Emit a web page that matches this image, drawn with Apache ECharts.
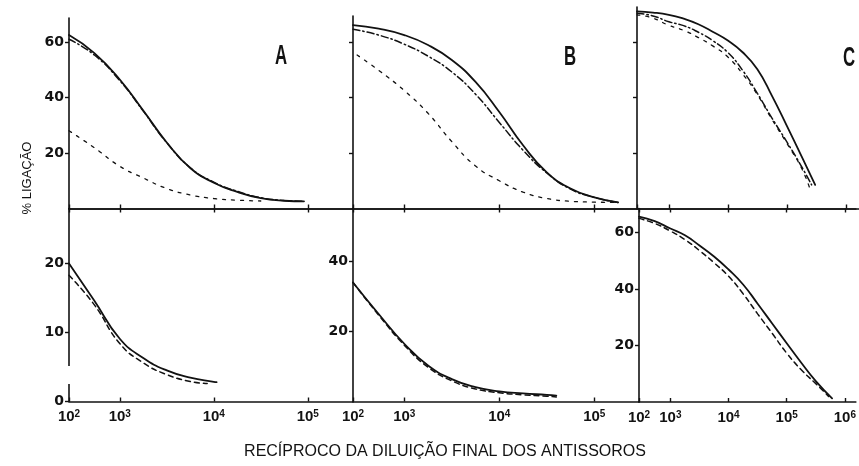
<!DOCTYPE html>
<html><head><meta charset="utf-8">
<script src="https://cdn.jsdelivr.net/npm/echarts@6/dist/echarts.min.js"></script>
<style>html,body{margin:0;padding:0;background:#fff}#c{width:859px;height:466px}</style>
</head><body><div id="c"></div>
<script>
// ---------------- DATA (x = log10 of reciprocal dilution, y = % ligação) ----------------
const xTickExps = [2, 3, 4, 5, 6];

// Panel A (top)
const topA_x       = [2, 2.5, 3, 3.25, 3.5, 3.75, 4, 4.25, 4.5, 4.75, 4.96];
const topA_solid   = [62.5, 56.0, 46.5, 35.3, 23.8, 14.6, 9.3, 6.0, 3.7, 2.8, 2.6];
const topA_dashdot = [61.0, 55.3, 46.1, 35.1, 23.7, 14.7, 9.5, 6.2, 3.9, 2.9, 2.6];
const topA_dash_x  = [2, 2.5, 3, 3.25, 3.5, 3.75, 4, 4.25, 4.5];
const topA_dash    = [28.0, 21.9, 15.2, 11.0, 7.2, 4.9, 3.6, 3.0, 2.7];

// Panel B (top)
const topB_x       = [2, 2.5, 3, 3.25, 3.5, 3.75, 4, 4.25, 4.5, 4.75, 5, 5.25];
const topB_solid   = [66.1, 64.8, 62.5, 58.9, 53.5, 45.6, 34.8, 22.8, 13.0, 7.2, 4.0, 2.2];
const topB_dashdot = [64.6, 62.5, 59.2, 54.9, 49.2, 41.2, 31.0, 21.0, 12.8, 7.0, 4.0, 2.2];
const topB_dash_x  = [2.08, 2.5, 3, 3.25, 3.5, 3.75, 4, 4.25, 4.5, 4.75, 5, 5.25];
const topB_dash    = [55.3, 49.8, 42.5, 34.3, 24.1, 15.3, 10.0, 5.9, 3.6, 2.6, 2.3, 2.2];

// Panel C (top)
const topC_x       = [2, 2.5, 3, 3.25, 3.5, 3.75, 4, 4.25, 4.5, 4.75, 5, 5.25, 5.48];
const topC_solid   = [71.0, 70.6, 69.8, 68.4, 66.4, 63.6, 60.5, 56.3, 50.2, 40.5, 29.8, 18.8, 8.5];
const topC_dd_x    = [2, 2.5, 3, 3.25, 3.5, 3.75, 4, 4.25, 4.5, 4.75, 5, 5.25, 5.42];
const topC_dashdot = [70.4, 69.4, 67.3, 65.9, 63.5, 60.4, 56.2, 49.8, 41.5, 32.5, 24.0, 15.1, 8.5];
const topC_dash_x  = [2, 2.5, 3, 3.25, 3.5, 3.75, 4, 4.25, 4.5, 4.75, 5, 5.25, 5.4];
const topC_dash    = [69.8, 68.6, 66.0, 64.2, 61.6, 58.5, 54.6, 48.5, 41.0, 32.0, 23.5, 14.5, 6.5];

// Panel A (bottom)
const botA_x       = [2, 2.5, 3, 3.25, 3.5, 3.75, 4, 4.03];
const botA_solid   = [20.0, 14.6, 9.1, 6.3, 4.5, 3.45, 2.85, 2.8];
const botA_dash_x  = [2, 2.5, 3, 3.25, 3.5, 3.75, 3.93];
const botA_dash    = [18.3, 14.0, 8.4, 5.6, 3.9, 2.9, 2.6];

// Panel B (bottom)
const botB_x       = [2, 2.5, 3, 3.25, 3.5, 3.75, 4, 4.25, 4.5, 4.6];
const botB_solid   = [34.0, 25.0, 16.5, 10.3, 6.4, 4.1, 2.9, 2.3, 1.9, 1.7];
const botB_dash    = [34.0, 24.7, 16.1, 9.8, 5.9, 3.6, 2.5, 1.9, 1.5, 1.3];

// Panel C (bottom)
const botC_x       = [2, 2.5, 3, 3.25, 3.5, 3.75, 4, 4.25, 4.5, 4.75, 5, 5.25, 5.5, 5.78];
const botC_solid   = [65.6, 64.0, 61.4, 59.0, 55.4, 51.5, 46.9, 41.6, 34.8, 27.8, 20.8, 13.9, 7.4, 1.3];
const botC_dash_x  = [2, 2.5, 3, 3.25, 3.5, 3.75, 4, 4.25, 4.5, 4.75, 5, 5.25, 5.5, 5.72];
const botC_dash    = [65.0, 63.2, 60.5, 57.5, 53.6, 49.3, 44.5, 38.3, 31.2, 24.3, 17.3, 11.4, 6.5, 2.0];

const panelLetters = ['A', 'B', 'C'];
const xTitle = 'RECÍPROCO DA DILUIÇÃO FINAL DOS ANTISSOROS';
const yTitle = '% LIGAÇÃO';

// ---------------- SCALE (original figure: first decade drawn ~0.54 of the others) ----------------
const K = 0.54;
function toAxis(e) { return e <= 3 ? (e - 2) * K : K + (e - 3); }
function fromAxis(v) { return v <= K + 1e-9 ? 2 + v / K : 3 + (v - K); }

const INK = '#121212';
const FONT = '"Liberation Sans", Arial, sans-serif';
const SOLID = { type: 'solid', width: 1.8 };
const DASHDOT = { type: [7, 3, 1.5, 3], width: 1.5 };
const DASHFINE = { type: [3, 6], width: 1.3 };
const DASH = { type: [5, 4], width: 1.5 };

const panels = [
  { grid: { left: 69, top: 18, width: 284, height: 190.5 }, ppu: 94, ppv: 2.775,
    yTicks: [20, 40, 60], yLabels: [20, 40, 60], xLabels: false, topAxis: false,
    lines: [[topA_x, topA_solid, SOLID], [topA_x, topA_dashdot, DASHDOT], [topA_dash_x, topA_dash, DASHFINE]] },
  { grid: { left: 353, top: 16, width: 284, height: 192.5 }, ppu: 95, ppv: 2.775,
    yTicks: [20, 40, 60], yLabels: [], xLabels: false, topAxis: false,
    lines: [[topB_x, topB_solid, SOLID], [topB_x, topB_dashdot, DASHDOT], [topB_dash_x, topB_dash, DASHFINE]] },
  { grid: { left: 637, top: 7, width: 222, height: 201.5 }, ppu: 59, ppv: 2.775,
    yTicks: [20, 40, 60], yLabels: [], xLabels: false, topAxis: false,
    lines: [[topC_x, topC_solid, SOLID], [topC_dd_x, topC_dashdot, DASHDOT], [topC_dash_x, topC_dash, DASHFINE]] },
  { grid: { left: 69, top: 208.5, width: 284, height: 193 }, ppu: 94, ppv: 6.9,
    yTicks: [0, 10, 20], yLabels: [0, 10, 20], xLabels: true, topAxis: true,
    lines: [[botA_x, botA_solid, SOLID], [botA_dash_x, botA_dash, DASH]] },
  { grid: { left: 353, top: 208.5, width: 286, height: 193 }, ppu: 95, ppv: 3.5,
    yTicks: [20, 40], yLabels: [20, 40], xLabels: true, topAxis: true,
    lines: [[botB_x, botB_solid, SOLID], [botB_x, botB_dash, DASH]] },
  { grid: { left: 639, top: 208.5, width: 220, height: 193.5 }, ppu: 59, ppv: 2.825,
    yTicks: [20, 40, 60], yLabels: [20, 40, 60], xLabels: true, topAxis: true,
    lines: [[botC_x, botC_solid, SOLID], [botC_dash_x, botC_dash, DASH]] }
];

const grids = [], xAxes = [], yAxes = [], series = [];
panels.forEach((p, i) => {
  grids.push(Object.assign({ containLabel: false }, p.grid));
  const xMax = p.grid.width / p.ppu;
  const yMax = p.grid.height / p.ppv;
  const xt = xTickExps.map(toAxis).filter(v => v <= xMax + 1e-6);
  const xi = xAxes.length;
  xAxes.push({
    type: 'value', gridIndex: i, min: 0, max: xMax, position: 'bottom',
    axisLine: { onZero: false, lineStyle: { color: INK, width: 1.6 } },
    axisTick: { inside: true, length: 4, customValues: xt, lineStyle: { color: INK, width: 1.4 } },
    axisLabel: {
      show: p.xLabels, customValues: xt, margin: 8, color: INK,
      formatter: v => '{b|10}{s|' + Math.round(fromAxis(v)) + '}',
      rich: {
        b: { fontFamily: FONT, fontSize: 15, fontWeight: 'bold', color: INK, lineHeight: 15, verticalAlign: 'bottom' },
        s: { fontFamily: FONT, fontSize: 10, fontWeight: 'bold', color: INK, lineHeight: 10, verticalAlign: 'top', padding: [0, 0, 9, 0] }
      }
    },
    splitLine: { show: false }
  });
  if (p.topAxis) {
    xAxes.push({
      type: 'value', gridIndex: i, min: 0, max: xMax, position: 'top',
      axisLine: { onZero: false, lineStyle: { color: INK, width: 1.6 } },
      axisTick: { inside: true, length: 4, customValues: xt, lineStyle: { color: INK, width: 1.4 } },
      axisLabel: { show: false }, splitLine: { show: false }
    });
  }
  const yi = yAxes.length;
  yAxes.push({
    type: 'value', gridIndex: i, min: 0, max: yMax,
    axisLine: { show: true, onZero: false, lineStyle: { color: INK, width: 1.6 } },
    axisTick: { show: true, inside: false, length: 4, customValues: p.yTicks, lineStyle: { color: INK, width: 1.4 } },
    axisLabel: { show: p.yLabels.length > 0, customValues: p.yLabels, margin: 5, color: INK,
      fontFamily: '"DejaVu Sans", sans-serif', fontSize: 14, fontWeight: 'bold' },
    splitLine: { show: false }
  });
  p.lines.forEach(([xs, ys, ls]) => {
    series.push({
      type: 'line', xAxisIndex: xi, yAxisIndex: yi, smooth: 0.5, showSymbol: false, silent: true,
      lineStyle: Object.assign({ color: INK, cap: 'round' }, ls),
      data: xs.map((e, k) => [toAxis(e), ys[k]])
    });
  });
});

const letterStyle = t => ({ text: t, fontFamily: FONT, fontSize: 28, fontWeight: 'bold', fill: INK, align: 'center', verticalAlign: 'middle' });
const graphic = [
  { type: 'text', x: 281, y: 56, scaleX: 0.6, style: letterStyle(panelLetters[0]) },
  { type: 'text', x: 570, y: 57, scaleX: 0.6, style: letterStyle(panelLetters[1]) },
  { type: 'text', x: 849, y: 58, scaleX: 0.6, style: letterStyle(panelLetters[2]) },
  { type: 'text', x: 27, y: 178, rotation: Math.PI / 2, style: { text: yTitle, fontFamily: FONT, fontSize: 13, fill: INK, align: 'center', verticalAlign: 'middle' } },
  { type: 'text', x: 445, y: 452, style: { text: xTitle, fontFamily: FONT, fontSize: 16, fill: INK, align: 'center', verticalAlign: 'middle' } },
  { type: 'rect', z: 100, shape: { x: 66, y: 366, width: 6, height: 18 }, style: { fill: '#fff' } }
];

const chart = echarts.init(document.getElementById('c'));
chart.setOption({
  animation: false,
  backgroundColor: '#fff',
  grid: grids, xAxis: xAxes, yAxis: yAxes, series: series, graphic: graphic
});
</script>
</body></html>
